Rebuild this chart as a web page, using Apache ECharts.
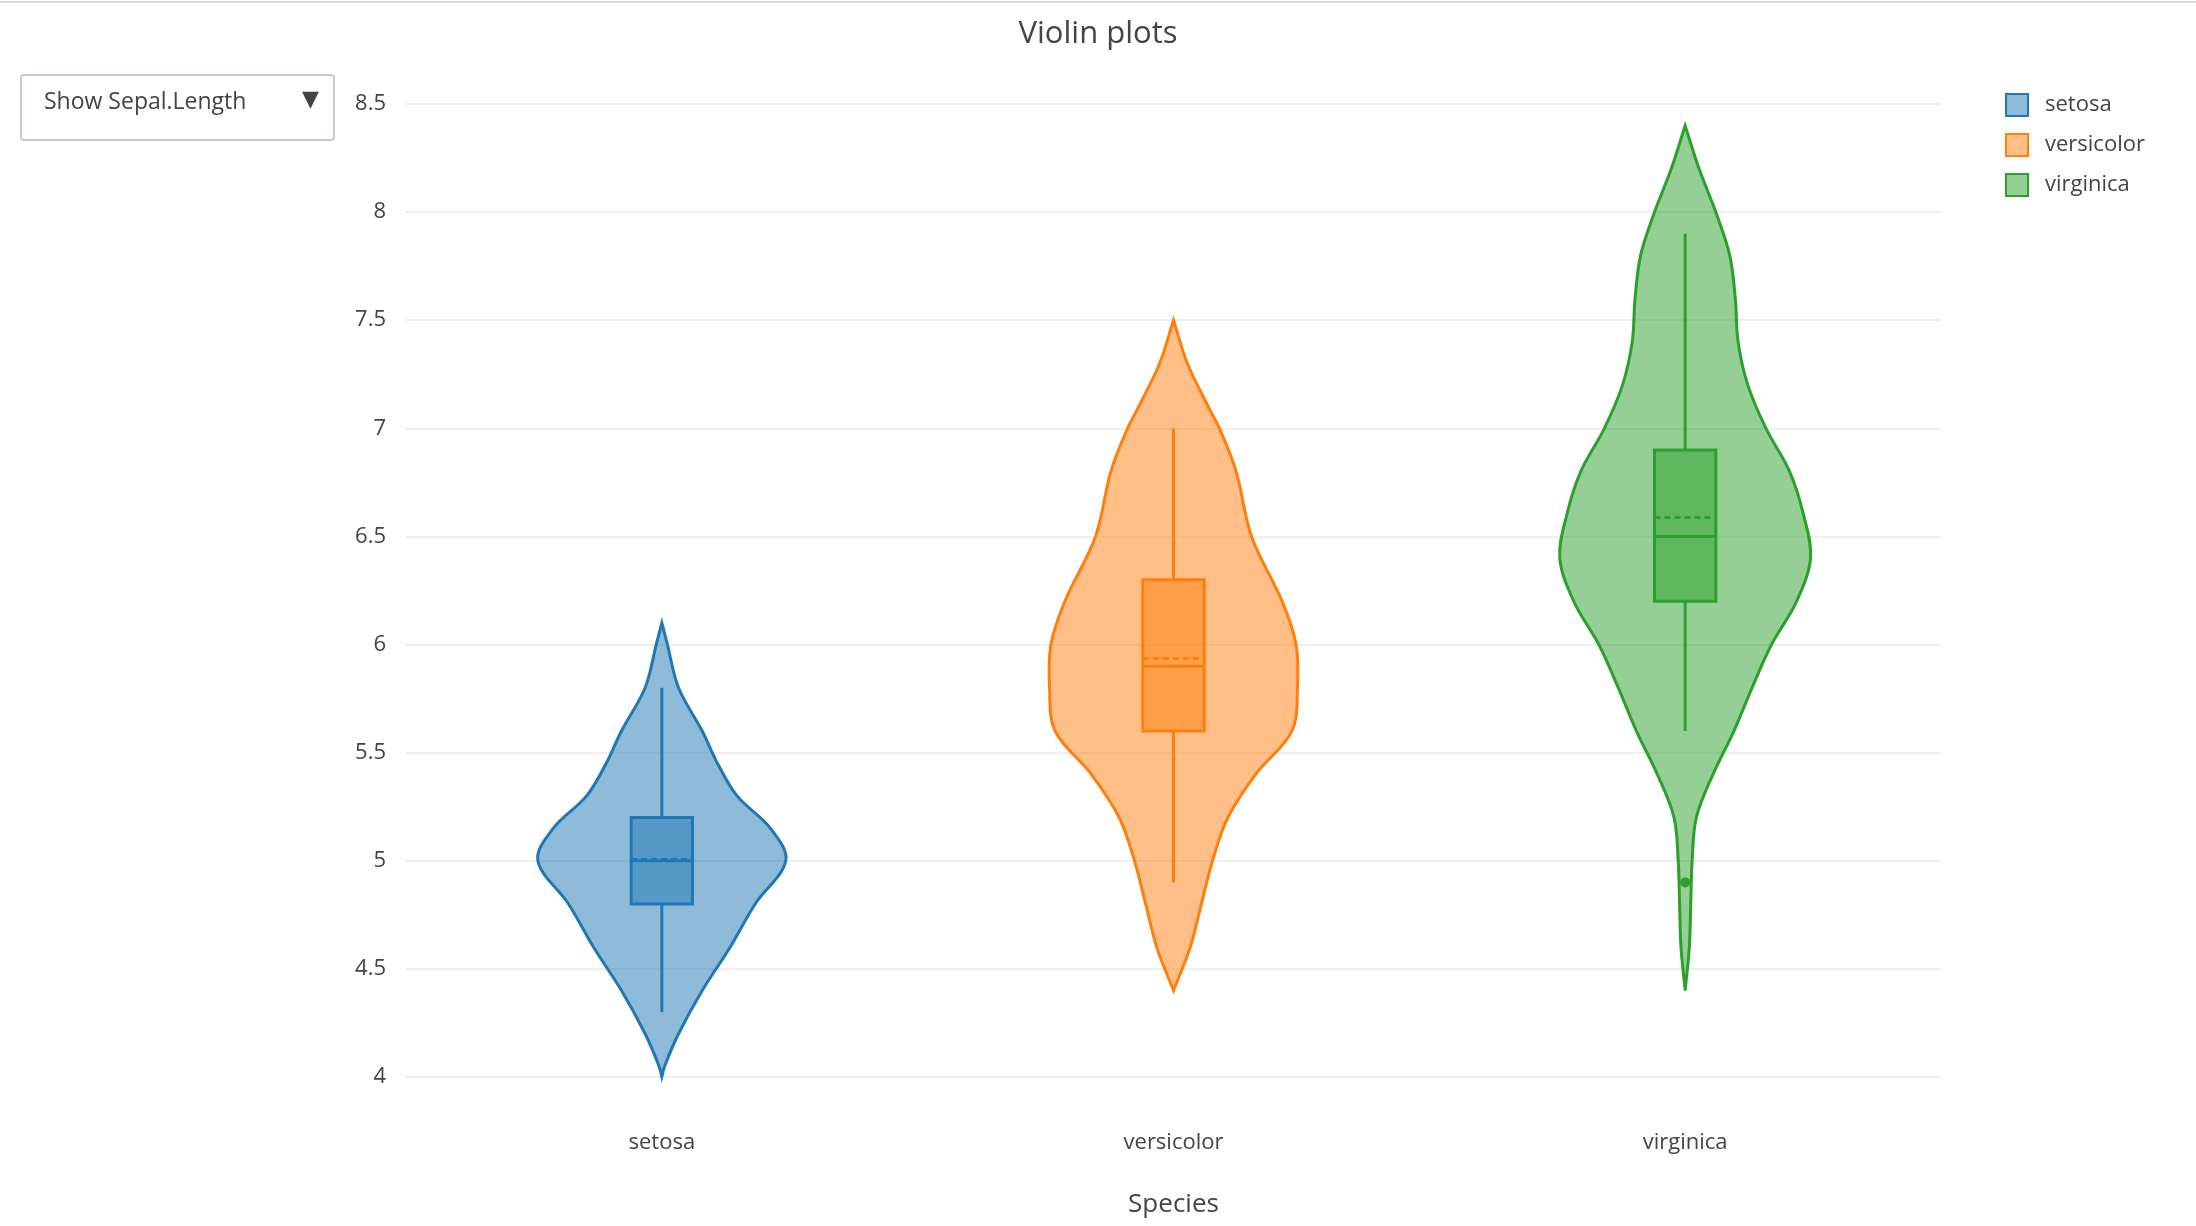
<!DOCTYPE html>
<html><head><meta charset="utf-8">
<script src="https://cdn.jsdelivr.net/npm/echarts@6/dist/echarts.min.js"></script>
<style>html,body{margin:0;padding:0;background:#fff}#c{width:2196px;height:1226px}</style>
</head><body><div id="c"></div>
<script>
const categories = ['setosa','versicolor','virginica'];
const colors = ['#1f77b4','#ff7f0e','#2ca02c'];
// violin outline: y values and relative density (half width)
const setosaY = [4.0,4.05,4.2,4.4,4.6,4.8,5.0,5.15,5.3,5.45,5.6,5.8,6.0,6.1];
const setosaD = [0,2,12,29,49,67,89,78,54,40,29,12,4,0];
const versicolorY = [4.4,4.6,4.8,5.0,5.2,5.4,5.6,5.8,6.0,6.2,6.5,6.8,7.0,7.1,7.3,7.5];
const versicolorD = [0,12,20,28,39,59,85,89,88,78,56,45,33,25,10,0];
const virginicaY = [4.4,4.6,4.8,5.0,5.2,5.4,5.6,5.8,6.0,6.2,6.4,6.6,6.8,7.0,7.2,7.4,7.6,7.8,8.0,8.2,8.4];
const virginicaD = [0,3,4,5,8,20,35,48,62,80,90,85,75,58,45,38,36,32,22,10,0];
// box stats: [lowerWhisker, q1, median, q3, upperWhisker, mean]
const boxStats = [
  [4.3,4.8,5.0,5.2,5.8,5.006],
  [4.9,5.6,5.9,6.3,7.0,5.936],
  [5.6,6.2,6.5,6.9,7.9,6.588]
];
const outliers = [[], [], [4.9]];
const violinY = [setosaY, versicolorY, virginicaY];
const violinD = [setosaD, versicolorD, virginicaD];

function rgba(hex,a){const n=parseInt(hex.slice(1),16);return `rgba(${n>>16},${(n>>8)&255},${n&255},${a})`;}

function makeRender(i){
  return function(params, api){
    const band = api.size([1,0])[0];
    const scale = band*0.245/90;
    const cx = api.coord([i, 0])[0];
    const ys = violinY[i], ds = violinD[i];
    const right=[], left=[];
    for(let k=0;k<ys.length;k++){
      const py = api.coord([i, ys[k]])[1];
      right.push([cx + ds[k]*scale, py]);
      left.unshift([cx - ds[k]*scale, py]);
    }
    const c = colors[i];
    const s = boxStats[i];
    const Y = v => api.coord([i, v])[1];
    const bw = band*0.06;
    const children = [
      {type:'polygon', shape:{points:right.concat(left), smooth:0.35},
       style:{fill:rgba(c,0.5), stroke:c, lineWidth:3}},
      {type:'line', shape:{x1:cx,y1:Y(s[0]),x2:cx,y2:Y(s[1])}, style:{stroke:c,lineWidth:3}},
      {type:'line', shape:{x1:cx,y1:Y(s[3]),x2:cx,y2:Y(s[4])}, style:{stroke:c,lineWidth:3}},
      {type:'rect', shape:{x:cx-bw,y:Y(s[3]),width:2*bw,height:Y(s[1])-Y(s[3])},
       style:{fill:rgba(c,0.5), stroke:c, lineWidth:3}},
      {type:'line', shape:{x1:cx-bw,y1:Y(s[2]),x2:cx+bw,y2:Y(s[2])}, style:{stroke:c,lineWidth:3}},
      {type:'line', shape:{x1:cx-bw,y1:Y(s[5]),x2:cx+bw,y2:Y(s[5])}, style:{stroke:c,lineWidth:3,lineDash:[6,4]}}
    ];
    outliers[i].forEach(o=>children.push({type:'circle',shape:{cx:cx,cy:Y(o),r:5},style:{fill:c}}));
    return {type:'group', children};
  };
}

const chart = echarts.init(document.getElementById('c'));
chart.setOption({
  animation:false,
  title:{text:'Violin plots', left:'center', top:14, textStyle:{fontFamily:'Open Sans',fontSize:31,fontWeight:'normal',color:'#444'}},
  legend:{orient:'vertical', left:2000, top:88, itemWidth:22, itemHeight:22, itemGap:16,
    textStyle:{fontFamily:'Open Sans',fontSize:22,color:'#444',padding:[0,0,0,12]}, icon:'rect',
    data:categories},
  grid:{left:406, right:255, top:104, bottom:149},
  xAxis:{type:'category', data:categories, name:'Species', nameLocation:'middle', nameGap:115,
    nameTextStyle:{fontFamily:'Open Sans',fontSize:26,color:'#444'},
    axisLine:{show:false}, axisTick:{show:false},
    axisLabel:{margin:55,fontFamily:'Open Sans',fontSize:22,color:'#444'}},
  yAxis:{type:'value', min:4, max:8.5, interval:0.5,
    axisLine:{show:false}, axisTick:{show:false},
    axisLabel:{margin:20,fontFamily:'Open Sans',fontSize:22,color:'#444'},
    splitLine:{lineStyle:{color:'#e8e8e8',width:1.5}}},
  series: categories.map((n,i)=>({
    name:n, type:'custom', renderItem:makeRender(i),
    itemStyle:{color:rgba(colors[i],0.5), borderColor:colors[i], borderWidth:3},
    encode:{x:0,y:1}, data:[[i, boxStats[i][2]]]
  })),
  graphic:[
    {type:'rect', left:20, top:74, shape:{width:313,height:65,r:3},
     style:{fill:'#fff', stroke:'#c4c8d8', lineWidth:2}},
    {type:'text', left:44, top:91, style:{text:'Show Sepal.Length', font:'23px "Open Sans"', fill:'#444'}},
    {type:'text', left:302, top:89, style:{text:'▼', font:'22px "DejaVu Sans"', fill:'#444'}},
    {type:'line', shape:{x1:0,y1:2,x2:2196,y2:2}, style:{stroke:'#ddd',lineWidth:2}}
  ]
});
</script></body></html>
